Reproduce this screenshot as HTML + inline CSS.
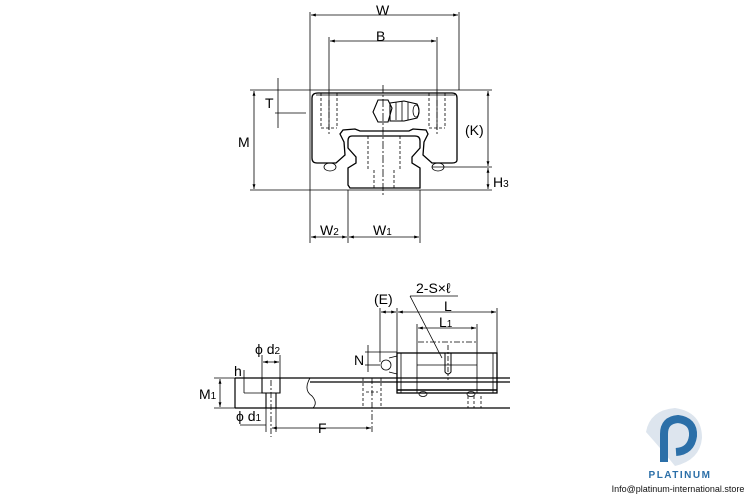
<!DOCTYPE html>
<html><head><meta charset="utf-8"><style>
body{margin:0;background:#fff;}
svg{display:block;font-family:"Liberation Sans",sans-serif;}
</style></head><body>
<svg width="750" height="500" viewBox="0 0 750 500" xmlns="http://www.w3.org/2000/svg">
<defs>
<marker id="a" viewBox="0 0 10 10" refX="10" refY="5" markerWidth="6" markerHeight="6" orient="auto-start-reverse"><path d="M0,2 L10,5 L0,8 z" fill="#000"/></marker>
</defs>
<g stroke="#000" stroke-width="0.8" fill="none">
<line x1="310" y1="12" x2="310" y2="243"/>
<line x1="459" y1="12" x2="459" y2="90"/>
<line x1="329" y1="37" x2="329" y2="130"/>
<line x1="437" y1="37" x2="437" y2="130"/>
<line x1="348" y1="190" x2="348" y2="243"/>
<line x1="420" y1="190" x2="420" y2="243"/>
<line x1="250" y1="90" x2="492" y2="90"/>
<line x1="250" y1="190" x2="492" y2="190"/>
<line x1="432" y1="167" x2="492" y2="167"/>
<line x1="275" y1="113" x2="306" y2="113"/>
<line x1="278" y1="78" x2="278" y2="128"/>
<line x1="311" y1="15" x2="458" y2="15" marker-start="url(#a)" marker-end="url(#a)"/>
<line x1="330" y1="41" x2="436" y2="41" marker-start="url(#a)" marker-end="url(#a)"/>
<line x1="254" y1="91" x2="254" y2="189" marker-start="url(#a)" marker-end="url(#a)"/>
<line x1="488" y1="91" x2="488" y2="166" marker-start="url(#a)" marker-end="url(#a)"/>
<line x1="488" y1="168" x2="488" y2="189" marker-start="url(#a)" marker-end="url(#a)"/>
<line x1="311" y1="237" x2="347" y2="237" marker-start="url(#a)" marker-end="url(#a)"/>
<line x1="349" y1="237" x2="419" y2="237" marker-start="url(#a)" marker-end="url(#a)"/>
<path stroke-width="1.3" d="M318,93 L452,93 Q457,93 457,98 L457,160 Q457,163 452,163 L432,163 L423,155 L424,142 L428,134 L426,130 L413,129 L409,131 L360,131 L355,129 L343,130 L340,134 L344,142 L345,155 L336,163 L317,163 Q312,163 312,158 L312,98 Q312,93 318,93 Z"/>
<path d="M316,95 L455,95"/>
<path stroke-width="1.3" d="M352,136 L415,136 Q420,136 420,141 L420,148 L412,157 L412,163 L420,168 L420,188 L350,188 L348,185 L348,168 L356,163 L356,157 L348,148 L348,141 Q348,136 352,136 Z"/>
<g stroke-dasharray="3,2">
<path d="M368,136 L368,170 M400,136 L400,170 M374,170 L374,188 M394,170 L394,188"/>
<path d="M321,93 L321,128 M337,93 L337,128 M321,128 L337,128 M429,93 L429,128 M445,93 L445,128 M429,128 L445,128"/>
</g>
<line x1="383" y1="85" x2="383" y2="195" stroke-dasharray="8,2,2,2"/>
<line x1="329" y1="100" x2="329" y2="135" stroke-dasharray="6,2,2,2"/>
<line x1="437" y1="100" x2="437" y2="135" stroke-dasharray="6,2,2,2"/>
<ellipse cx="330" cy="167" rx="6" ry="4"/>
<ellipse cx="438" cy="167" rx="6" ry="4"/>
<path stroke-width="1.1" d="M378,100 L388,100 L392,108 L388,122 L378,122 L373,112 Z"/>
<path stroke-width="1.1" d="M390,103 L404,101 L417,104 Q421,111 417,118 L404,121 L390,121 Z"/>
<path d="M396,102 L396,120 M402,101 L402,121 M408,102 L408,120"/>
<ellipse cx="416" cy="111" rx="3" ry="6"/>

<path stroke-width="1.2" d="M235,378 L510,378 M310,382 L510,382 M235,408 L510,408 M235,378 L235,408"/>
<path d="M310,378 Q303,390 312,396 Q318,403 313,408"/>
<path stroke-width="1.1" d="M262,378 L262,393 L280,393 L280,378 M266,393 L266,408 M276,393 L276,408"/>
<line x1="266" y1="408" x2="266" y2="432"/><line x1="276" y1="408" x2="276" y2="432"/>
<line x1="271" y1="380" x2="271" y2="437" stroke-dasharray="6,2,2,2"/>
<line x1="262" y1="355" x2="262" y2="378"/><line x1="280" y1="355" x2="280" y2="378"/>
<line x1="263" y1="362" x2="279" y2="362" marker-start="url(#a)" marker-end="url(#a)"/>
<line x1="244" y1="393" x2="262" y2="393"/>
<line x1="244" y1="370" x2="244" y2="393"/>
<line x1="214" y1="378" x2="235" y2="378"/><line x1="214" y1="408" x2="235" y2="408"/>
<line x1="220" y1="379" x2="220" y2="407" marker-start="url(#a)" marker-end="url(#a)"/>
<line x1="240" y1="425" x2="266" y2="425"/>
<line x1="272" y1="428" x2="371" y2="428" marker-start="url(#a)" marker-end="url(#a)"/>
<line x1="372" y1="378" x2="372" y2="433" stroke-dasharray="6,2,2,2"/>
<g stroke-dasharray="3,2"><path d="M363,378 L363,408 M381,378 L381,408 M366,392 L378,392"/></g>
<rect x="397" y="353" width="100" height="40" stroke-width="1.3"/>
<line x1="417" y1="350" x2="417" y2="393"/><line x1="477" y1="350" x2="477" y2="393"/>
<line x1="401" y1="353" x2="401" y2="393"/><line x1="493" y1="353" x2="493" y2="393"/>
<line x1="417" y1="365" x2="477" y2="365"/>
<line x1="397" y1="390" x2="497" y2="390" stroke-width="1.5"/>
<path d="M445,353 L445,372 Q448,376 451,372 L451,353" stroke-width="1"/>
<line x1="448" y1="345" x2="448" y2="380" stroke-dasharray="5,2,2,2"/>
<ellipse cx="423" cy="394" rx="4" ry="2.5"/><ellipse cx="471" cy="394" rx="4" ry="2.5"/>
<g stroke-dasharray="3,2"><path d="M468,396 L468,408 M474,396 L474,408 M481,396 L481,408"/></g>
<circle cx="386" cy="365" r="5"/>
<path d="M389,358 L397,356 L397,374 L389,372"/>
<line x1="380" y1="308" x2="380" y2="362"/>
<line x1="397" y1="308" x2="397" y2="353"/>
<line x1="497" y1="308" x2="497" y2="380"/>
<line x1="417" y1="324" x2="417" y2="350"/><line x1="477" y1="324" x2="477" y2="350"/>
<line x1="381" y1="312" x2="396" y2="312" marker-start="url(#a)" marker-end="url(#a)"/>
<line x1="398" y1="312" x2="496" y2="312" marker-start="url(#a)" marker-end="url(#a)"/>
<line x1="418" y1="328" x2="476" y2="328" marker-start="url(#a)" marker-end="url(#a)"/>
<line x1="418" y1="342" x2="476" y2="342" stroke-dasharray="6,2,2,2"/>
<line x1="410" y1="296" x2="458" y2="296"/>
<line x1="410" y1="296" x2="442" y2="358"/>
<line x1="365" y1="352" x2="397" y2="352"/><line x1="365" y1="365" x2="380" y2="365"/>
<line x1="368" y1="345" x2="368" y2="372"/>
</g>
<g font-size="14" fill="#000">
<text x="376" y="15">W</text>
<text x="376" y="41">B</text>
<text x="238" y="147">M</text>
<text x="265" y="108">T</text>
<text x="465" y="135">(K)</text>
<text x="493" y="187">H<tspan font-size="10">3</tspan></text>
<text x="320" y="235">W<tspan font-size="10">2</tspan></text>
<text x="373" y="235">W<tspan font-size="10">1</tspan></text>
<text x="374" y="304">(E)</text>
<text x="416" y="293">2-S×ℓ</text>
<text x="444" y="311">L</text>
<text x="439" y="327">L<tspan font-size="10">1</tspan></text>
<text x="354" y="365">N</text>
<text x="255" y="354">ϕ d<tspan font-size="10">2</tspan></text>
<text x="234" y="376">h</text>
<text x="199" y="399">M<tspan font-size="10">1</tspan></text>
<text x="236" y="421">ϕ d<tspan font-size="10">1</tspan></text>
<text x="318" y="433">F</text>
</g>
<g>
<path d="M646,432 Q650,410 675,408 Q702,412 702,438 Q700,460 675,466 Q662,450 646,432 Z" fill="#dde5ee"/>
<path d="M664,462 L664,434 Q664,420 678,419 Q694,421 693,436 Q691,451 676,452" fill="none" stroke="#2b6fa8" stroke-width="8"/>
<text x="680" y="478" font-size="10" font-weight="bold" fill="#2b6fa8" text-anchor="middle" letter-spacing="1.5">PLATINUM</text>
<text x="678" y="492" font-size="9" fill="#111" text-anchor="middle">Info@platinum-international.store</text>
</g>
</svg>
</body></html>
